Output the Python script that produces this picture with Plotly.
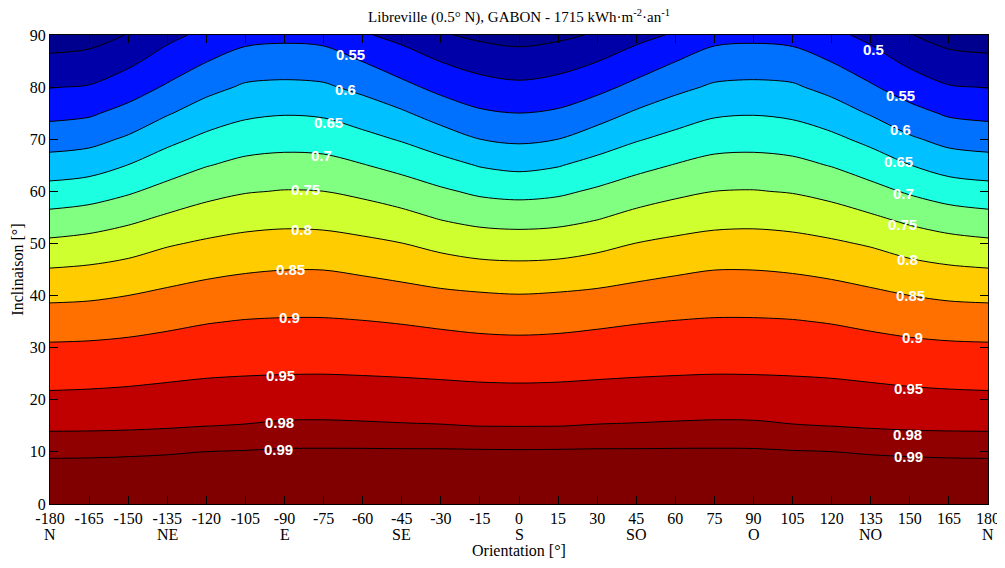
import numpy as np
import plotly.graph_objects as go

# ---------------- data ----------------
orientations = list(range(-180, 181, 15))          # degrees, x axis
tilts = list(range(0, 91, 5))                      # degrees, y axis

# irradiation ratio (relative to max) for each orientation, by tilt 0..90 step 5
c_m180 = [1.0, 0.9969, 0.9877, 0.9739, 0.9558, 0.9325, 0.9067, 0.875, 0.8402, 0.8023, 0.7595, 0.7145, 0.6685, 0.6222, 0.578, 0.5369, 0.4985, 0.4612, 0.4239]
c_m165 = [1.0, 0.997, 0.9879, 0.9742, 0.9567, 0.934, 0.9082, 0.877, 0.8429, 0.8071, 0.7667, 0.7227, 0.6764, 0.6296, 0.585, 0.5435, 0.5032, 0.4667, 0.4304]
c_m150 = [1.0, 0.9971, 0.9884, 0.9752, 0.9582, 0.9369, 0.9116, 0.8825, 0.8501, 0.8158, 0.7786, 0.7377, 0.694, 0.6509, 0.607, 0.5656, 0.5269, 0.4891, 0.452]
c_m135 = [1.0, 0.9973, 0.9891, 0.977, 0.9605, 0.9412, 0.9167, 0.8902, 0.8598, 0.8282, 0.7953, 0.7562, 0.7156, 0.6765, 0.6375, 0.596, 0.5556, 0.521, 0.4872]
c_m120 = [1.0, 0.9975, 0.9901, 0.9797, 0.9632, 0.9453, 0.9217, 0.8977, 0.8686, 0.8385, 0.8064, 0.7714, 0.7351, 0.6978, 0.661, 0.6231, 0.5853, 0.5485, 0.5118]
c_m105 = [1.0, 0.9976, 0.9906, 0.9804, 0.9645, 0.9477, 0.925, 0.9023, 0.8744, 0.8456, 0.8144, 0.7815, 0.7472, 0.7125, 0.6768, 0.641, 0.6063, 0.5703, 0.5341]
c_m90 = [1.0, 0.9978, 0.9913, 0.9813, 0.9657, 0.9491, 0.9266, 0.9041, 0.8772, 0.8494, 0.8181, 0.7858, 0.752, 0.7174, 0.6824, 0.6471, 0.6103, 0.5743, 0.5386]
c_m75 = [1.0, 0.9979, 0.9914, 0.9814, 0.966, 0.9495, 0.9268, 0.9041, 0.8772, 0.8494, 0.8169, 0.7838, 0.7501, 0.7153, 0.6797, 0.6434, 0.6066, 0.5707, 0.535]
c_m60 = [1.0, 0.9979, 0.9914, 0.9811, 0.9652, 0.9481, 0.9248, 0.9014, 0.8727, 0.8428, 0.8099, 0.7754, 0.7396, 0.7022, 0.6638, 0.6261, 0.5883, 0.549, 0.505]
c_m45 = [1.0, 0.9978, 0.9913, 0.9807, 0.9642, 0.9462, 0.9221, 0.8975, 0.8667, 0.8345, 0.8007, 0.7634, 0.725, 0.6857, 0.646, 0.6063, 0.5625, 0.5231, 0.4858]
c_m30 = [1.0, 0.9978, 0.9913, 0.9804, 0.9631, 0.9436, 0.9188, 0.8922, 0.8597, 0.8243, 0.7863, 0.7461, 0.707, 0.6664, 0.6237, 0.5791, 0.5366, 0.4989, 0.455]
c_m15 = [1.0, 0.9978, 0.9911, 0.9796, 0.9616, 0.9408, 0.9153, 0.8872, 0.8551, 0.8161, 0.7758, 0.7345, 0.6912, 0.6472, 0.6001, 0.5569, 0.5187, 0.4802, 0.44]
c_0 = [1.0, 0.9978, 0.991, 0.9793, 0.961, 0.9397, 0.9139, 0.8849, 0.852, 0.8133, 0.773, 0.7304, 0.6852, 0.6385, 0.5917, 0.5501, 0.5103, 0.4711, 0.4326]
c_p15 = [1.0, 0.9978, 0.9911, 0.9796, 0.9616, 0.9408, 0.9153, 0.8872, 0.8551, 0.8161, 0.7758, 0.7345, 0.6912, 0.6472, 0.6001, 0.5569, 0.5187, 0.4802, 0.44]
c_p30 = [1.0, 0.9978, 0.9913, 0.9804, 0.9631, 0.9436, 0.9188, 0.8922, 0.8597, 0.8243, 0.7863, 0.7461, 0.707, 0.6664, 0.6237, 0.5791, 0.5366, 0.4989, 0.455]
c_p45 = [1.0, 0.9978, 0.9913, 0.9807, 0.9642, 0.9462, 0.9221, 0.8975, 0.8667, 0.8345, 0.8007, 0.7634, 0.725, 0.6857, 0.646, 0.6063, 0.5625, 0.5231, 0.4858]
c_p60 = [1.0, 0.9979, 0.9914, 0.9811, 0.9652, 0.9481, 0.9248, 0.9014, 0.8727, 0.8428, 0.8099, 0.7754, 0.7396, 0.7022, 0.6638, 0.6261, 0.5883, 0.549, 0.505]
c_p75 = [1.0, 0.9979, 0.9914, 0.9814, 0.966, 0.9495, 0.9268, 0.9041, 0.8772, 0.8494, 0.8169, 0.7838, 0.7501, 0.7153, 0.6797, 0.6434, 0.6066, 0.5707, 0.535]
c_p90 = [1.0, 0.9978, 0.9913, 0.9813, 0.9657, 0.9491, 0.9266, 0.9041, 0.8772, 0.8494, 0.8181, 0.7858, 0.752, 0.7174, 0.6824, 0.6471, 0.6103, 0.5743, 0.5386]
c_p105 = [1.0, 0.9976, 0.9906, 0.9804, 0.9645, 0.9477, 0.925, 0.9023, 0.8744, 0.8456, 0.8144, 0.7815, 0.7472, 0.7125, 0.6768, 0.641, 0.6063, 0.5703, 0.5341]
c_p120 = [1.0, 0.9975, 0.9901, 0.9797, 0.9632, 0.9453, 0.9217, 0.8977, 0.8686, 0.8385, 0.8064, 0.7714, 0.7351, 0.6978, 0.661, 0.6231, 0.5853, 0.5485, 0.5118]
c_p135 = [1.0, 0.9973, 0.9891, 0.977, 0.9605, 0.9412, 0.9167, 0.8902, 0.8598, 0.8282, 0.7953, 0.7562, 0.7156, 0.6765, 0.6375, 0.596, 0.5556, 0.521, 0.4872]
c_p150 = [1.0, 0.9971, 0.9884, 0.9752, 0.9582, 0.9369, 0.9116, 0.8825, 0.8501, 0.8158, 0.7786, 0.7377, 0.694, 0.6509, 0.607, 0.5656, 0.5269, 0.4891, 0.452]
c_p165 = [1.0, 0.997, 0.9879, 0.9742, 0.9567, 0.934, 0.9082, 0.877, 0.8429, 0.8071, 0.7667, 0.7227, 0.6764, 0.6296, 0.585, 0.5435, 0.5032, 0.4667, 0.4304]
c_p180 = [1.0, 0.9969, 0.9877, 0.9739, 0.9558, 0.9325, 0.9067, 0.875, 0.8402, 0.8023, 0.7595, 0.7145, 0.6685, 0.6222, 0.578, 0.5369, 0.4985, 0.4612, 0.4239]

columns = [c_m180, c_m165, c_m150, c_m135, c_m120, c_m105, c_m90, c_m75, c_m60,
           c_m45, c_m30, c_m15, c_0, c_p15, c_p30, c_p45, c_p60, c_p75, c_p90,
           c_p105, c_p120, c_p135, c_p150, c_p165, c_p180]

levels = [0.45, 0.5, 0.55, 0.6, 0.65, 0.7, 0.75, 0.8, 0.85, 0.9, 0.95, 0.98, 0.99]

x_tick_text = ["-180", "-165", "-150", "-135", "-120", "-105", "-90", "-75", "-60", "-45", "-30", "-15",
               "0", "15", "30", "45", "60", "75", "90", "105", "120", "135", "150", "165", "180"]
compass_pos = [-180, -135, -90, -45, 0, 45, 90, 135, 180]
compass_text = ["N", "NE", "E", "SE", "S", "SO", "O", "NO", "N"]
y_tick_vals = list(range(0, 91, 10))

# label placement (orientation, tilt)
label_left_levels = ["0.55", "0.6", "0.65", "0.7", "0.75", "0.8", "0.85", "0.9", "0.95", "0.98", "0.99"]
label_left_x = [-64.7, -66.7, -73.2, -75.9, -82.0, -83.6, -87.8, -88.2, -91.6, -92.0, -92.4]
label_left_y = [86.2, 79.6, 73.3, 66.8, 60.3, 52.6, 45.0, 35.8, 24.6, 15.6, 10.4]
label_right_levels = ["0.5", "0.55", "0.6", "0.65", "0.7", "0.75", "0.8", "0.85", "0.9", "0.95", "0.98", "0.99"]
label_right_x = [136.2, 146.5, 146.5, 145.8, 147.7, 147.3, 149.2, 150.4, 151.1, 149.6, 149.2, 149.6]
label_right_y = [87.2, 78.3, 71.8, 65.8, 59.5, 53.6, 46.9, 40.0, 31.9, 22.1, 13.3, 9.1]

band_colors = ["#00008F", "#0000A8", "#0010FF", "#0070FF", "#00C0FF", "#1CFFE0", "#80FF80",
               "#D0FF30", "#FFCC00", "#FF7000", "#FF2000", "#C00000", "#900000", "#800000"]

# ---------------- build figure ----------------
z = np.column_stack([np.array(c, dtype=float) for c in columns])  # rows = tilts, cols = orientations
# map the (non-uniform) level values onto uniform indices so plotly can draw them
z_idx = np.interp(z, [0.40] + levels + [1.0], [-1] + list(range(len(levels))) + [len(levels)])

nb = len(band_colors)
colorscale = [[k / (nb - 1), c] for k, c in enumerate(band_colors)]

serif = "Liberation Serif, Times New Roman, serif"
sans = "Liberation Sans, Arial, sans-serif"

fig = go.Figure()
fig.add_trace(go.Contour(
    x=orientations, y=tilts, z=z_idx,
    contours=dict(start=0, end=len(levels) - 1, size=1, coloring="fill", showlines=True),
    line=dict(color="black", width=1, smoothing=0.9),
    colorscale=colorscale, showscale=False, hoverinfo="skip",
))

annotations = []
for t, xv, yv in zip(label_left_levels, label_left_x, label_left_y):
    annotations.append(dict(x=xv, y=yv, xref="x", yref="y", text="<b>%s</b>" % t, showarrow=False,
                            font=dict(family=sans, size=15, color="white")))
for t, xv, yv in zip(label_right_levels, label_right_x, label_right_y):
    annotations.append(dict(x=xv, y=yv, xref="x", yref="y", text="<b>%s</b>" % t, showarrow=False,
                            font=dict(family=sans, size=15, color="white")))
for p, t in zip(compass_pos, compass_text):
    annotations.append(dict(x=p, y=-0.066, xref="x", yref="paper", text=t, showarrow=False,
                            yanchor="middle", font=dict(family=serif, size=16, color="black")))
annotations.append(dict(x=0.5, y=-0.0995, xref="paper", yref="paper", text="Orientation [°]",
                        showarrow=False, yanchor="middle", font=dict(family=serif, size=16, color="black")))
annotations.append(dict(x=-0.035, y=0.5, xref="paper", yref="paper", text="Inclinaison [°]",
                        showarrow=False, textangle=-90, xanchor="center", yanchor="middle",
                        font=dict(family=serif, size=16, color="black")))

fig.update_layout(
    width=997, height=560,
    margin=dict(l=42, r=17, t=27, b=64, autoexpand=False),
    paper_bgcolor="white", plot_bgcolor="white",
    title=dict(text="Libreville (0.5° N), GABON - 1715 kWh·m<sup>-2</sup>·an<sup>-1</sup>",
               x=0.5, xref="paper", y=1 - 9 / 560, yref="container", yanchor="middle", xanchor="center",
               font=dict(family=serif, size=15, color="black")),
    annotations=annotations,
    showlegend=False,
)
fig.update_xaxes(range=[-180, 180], tickvals=orientations, ticktext=x_tick_text, automargin=False,
                 ticks="inside", ticklen=8, tickcolor="black", mirror="ticks",
                 showline=True, linecolor="black", linewidth=1, showgrid=False, zeroline=False,
                 tickfont=dict(family=serif, size=16, color="black"))
fig.update_yaxes(range=[0, 90], tickvals=y_tick_vals, ticktext=[str(v) for v in y_tick_vals], automargin=False,
                 ticks="inside", ticklen=8, tickcolor="black", mirror="ticks",
                 showline=True, linecolor="black", linewidth=1, showgrid=False, zeroline=False,
                 tickfont=dict(family=serif, size=16, color="black"))

fig.write_html("out.html")
